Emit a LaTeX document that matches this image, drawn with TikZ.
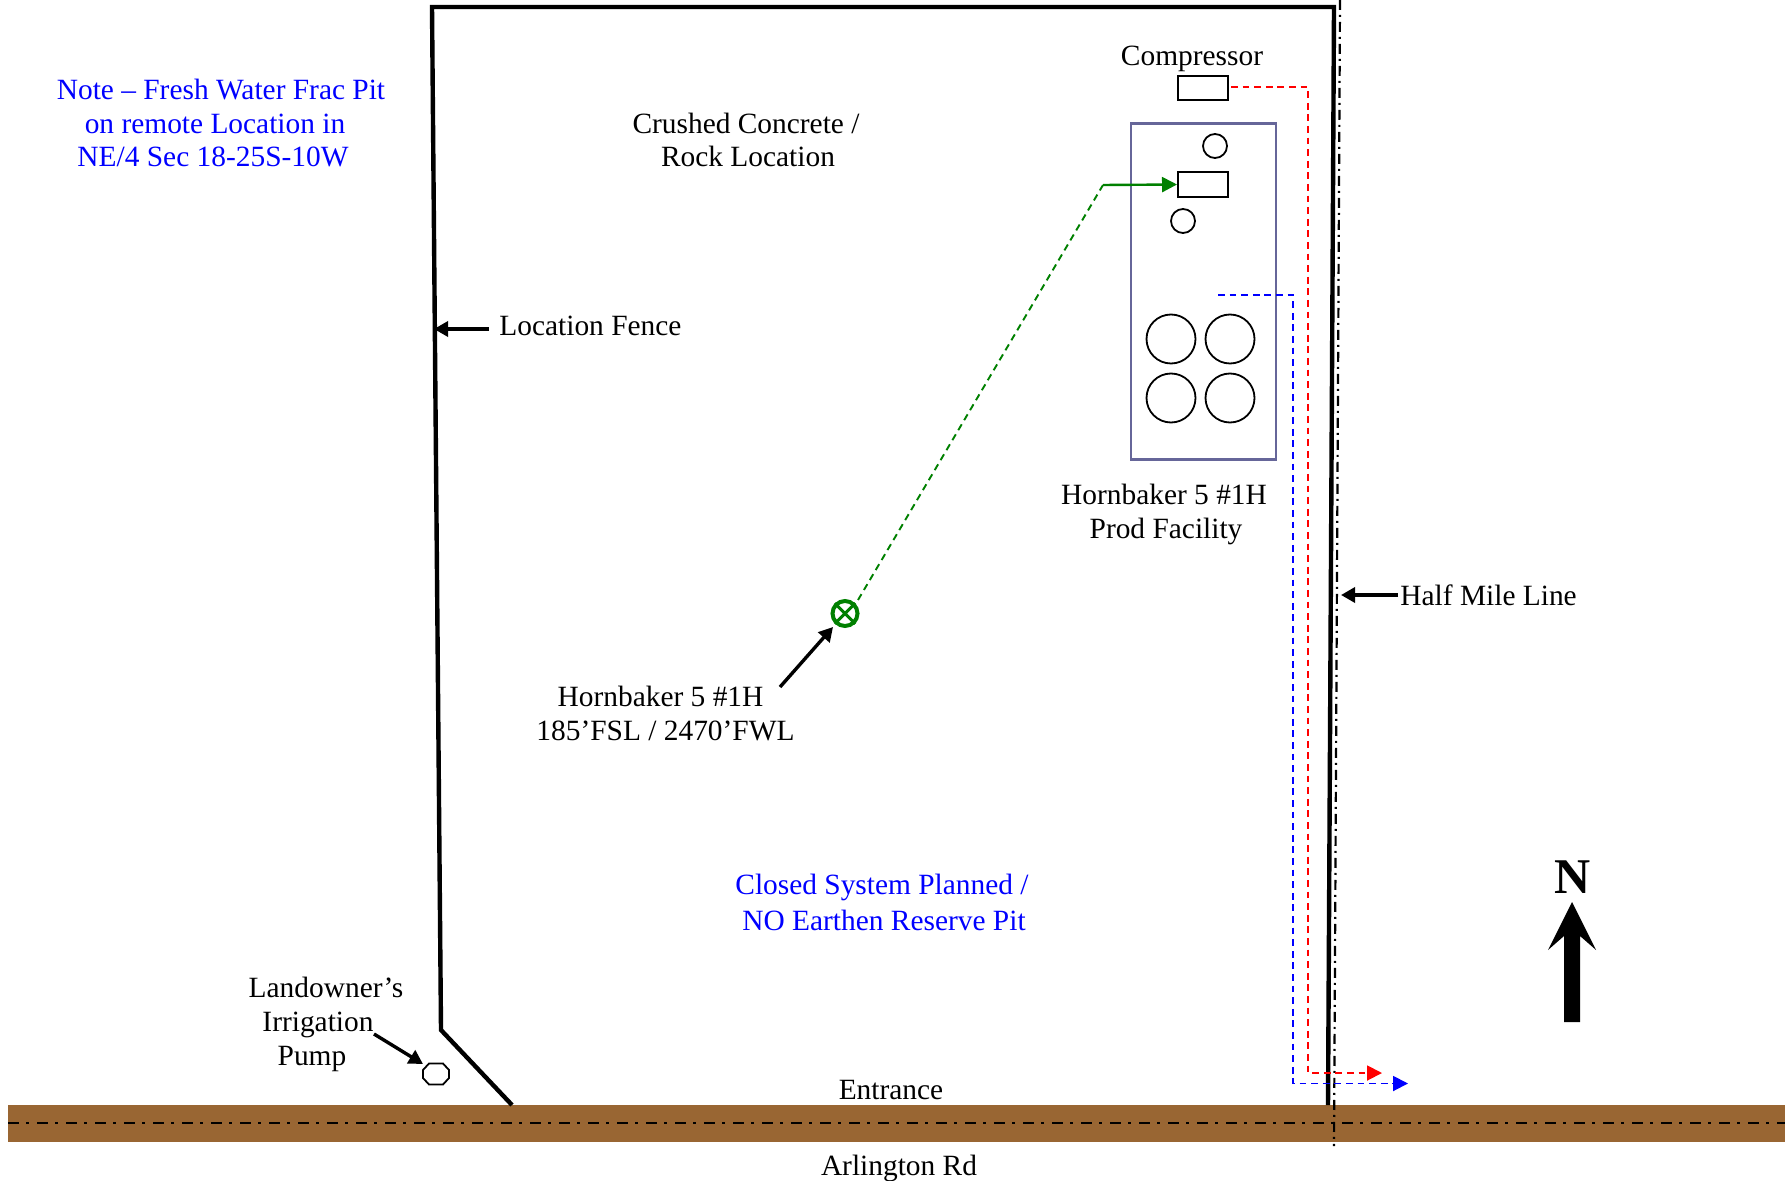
\documentclass[tikz,border=0pt]{standalone}
\usepackage{fontspec}
\setmainfont{Liberation Serif}
\usetikzlibrary{arrows.meta}
\definecolor{road}{HTML}{996633}
\definecolor{fac}{HTML}{666699}
\definecolor{wellg}{HTML}{008000}
\tikzset{
  x=0.5pt,y=-0.5pt,
  lab/.style={inner sep=0pt,font=\fontsize{14.7}{17}\selectfont,text=black},
  bluelab/.style={lab,text=blue},
  fence/.style={draw=black,line width=2.2pt,line join=miter},
  call/.style={draw=black,line width=1.7pt,-{Triangle[length=7pt,width=7.5pt]}},
  smallbox/.style={draw=black,line width=1pt,rectangle,minimum width=25pt,minimum height=12.5pt,inner sep=0pt},
  smallcirc/.style={draw=black,line width=0.9pt,circle,minimum size=12pt,inner sep=0pt},
  tank/.style={draw=black,line width=0.9pt,circle,minimum size=24.5pt,inner sep=0pt},
  pipe/.style={line width=0.95pt,dash pattern=on 3.4pt off 2.4pt},
  pipetip/.style={-{Triangle[length=7.5pt,width=7.5pt]}},
  centerline/.style={draw=black,line width=1.3pt,dash pattern=on 5.5pt off 3.5pt on 1.5pt off 4pt},
  halfline/.style={draw=black,line width=1.1pt,dash pattern=on 5pt off 2.5pt on 1pt off 2.5pt},
}
\begin{document}
\begin{tikzpicture}
\useasboundingbox (0,0) rectangle (1791,1181);
% road
\fill[road] (8,1105) rectangle (1785,1142);
\coordinate (rl) at (8,1123); \coordinate (rr) at (1785,1123);
\draw[centerline] (rl) -- (rr);
% fence
\coordinate (f1) at (512,1105); \coordinate (f2) at (441,1030); \coordinate (f3) at (432,7);
\coordinate (f4) at (1334,7); \coordinate (f5) at (1328,1105);
\draw[fence] (f1) -- (f2) -- (f3) -- (f4) -- (f5);
% half mile
\coordinate (h1) at (1340,0); \coordinate (h2) at (1334,1146);
\draw[halfline] (h1) -- (h2);
% facility
\node[draw=fac,line width=1.3pt,rectangle,inner sep=0pt,minimum width=72.5pt,minimum height=168pt] (facility) at (1203.5,291.5) {};
\node[smallbox,minimum height=12pt] (compressor) at (1203,88) {};
\node[smallbox] (separator) at (1203,184.5) {};
\node[smallcirc] (c1) at (1215,146) {};
\node[smallcirc] (c2) at (1183,221) {};
\node[tank] (t1) at (1171,339) {};
\node[tank] (t2) at (1230,339) {};
\node[tank] (t3) at (1171,398) {};
\node[tank] (t4) at (1230,398) {};
% well
\node[draw=wellg,line width=2pt,circle,minimum size=12.5pt,inner sep=0pt] (well) at (845,613.5) {};
\draw[wellg,line width=1.5pt] (well.45) -- (well.225) (well.135) -- (well.315);
% green line
\coordinate (bend) at (1103,185);
\coordinate (wellstart) at (858,600);
\draw[wellg,pipe] (wellstart) -- (bend);
\draw[wellg,line width=1.2pt,pipetip] (bend) -- (separator.west);
% red
\coordinate (rs) at (1231,87); \coordinate (rc) at (1308,87); \coordinate (rb) at (1308,1073); \coordinate (re) at (1382,1073);
\draw[red,pipe,pipetip] (rs) -- (rc) -- (rb) -- (re);
% blue
\coordinate (bs) at (1218,295); \coordinate (bc) at (1293,295); \coordinate (bb) at (1293,1083.5); \coordinate (be) at (1408,1083.5);
\draw[blue,pipe,pipetip] (bs) -- (bc) -- (bb) -- (be);
% pump
\coordinate (pump) at (436,1074);
\draw[black,line width=0.9pt] (pump) ++(-13,-4) -- ++(6,-6.5) -- ++(14,0) -- ++(6,6.5) -- ++(0,8) -- ++(-6,6.5) -- ++(-14,0) -- ++(-6,-6.5) -- cycle;
% labels
\node[bluelab] (n1) at (221,90) {Note – Fresh Water Frac Pit};
\node[bluelab] (n2) at (215,124) {on remote Location in};
\node[bluelab] (n3) at (213,157) {NE/4 Sec 18-25S-10W};
\node[lab] (cc1) at (746,123) {Crushed Concrete /};
\node[lab] (cc2) at (748,156) {Rock Location};
\node[lab] (comptext) at (1192,59) {Compressor};
\node[lab,anchor=west] (lf) at (499,326) {Location Fence};
\node[lab] (pf1) at (1164,494) {Hornbaker 5 \#1H};
\node[lab] (pf2) at (1166,531) {Prod Facility};
\node[lab,anchor=west] (hm) at (1400,595) {Half Mile Line};
\node[lab] (hb1) at (660.5,696) {Hornbaker 5 \#1H};
\node[lab] (hb2) at (665.5,731) {185’FSL / 2470’FWL};
\node[bluelab] (cs1) at (882,887) {Closed System Planned /};
\node[bluelab] (cs2) at (884,920) {NO Earthen Reserve Pit};
\node[lab] (lo1) at (326,987) {Landowner’s};
\node[lab] (lo2) at (318,1025) {Irrigation};
\node[lab] (lo3) at (312,1059) {Pump};
\node[lab] (ent) at (891,1090) {Entrance};
\node[lab] (arl) at (899,1168) {Arlington Rd};
% callouts
\coordinate (a1) at (780,687); \coordinate (a2) at (833,627);
\draw[call] (a1) -- (a2);
\coordinate (lfs) at (489,329); \coordinate (lfe) at (434,329);
\draw[call] (lfs) -- (lfe);
\coordinate (hms) at (1398,595); \coordinate (hme) at (1341,595);
\draw[call] (hms) -- (hme);
\coordinate (los) at (374,1034); \coordinate (loe) at (423,1064);
\draw[call] (los) -- (loe);
% north arrow
\node[inner sep=0pt,font=\fontsize{25}{28}\bfseries\selectfont] (north) at (1573,877) {N};
\coordinate (tip) at (1572,902);
\fill[black] (tip) -- (1596,950) -- (1580,936) -- (1580,1022) -- (1564,1022) -- (1564,936) -- (1548,950) -- cycle;
\end{tikzpicture}
\end{document}
